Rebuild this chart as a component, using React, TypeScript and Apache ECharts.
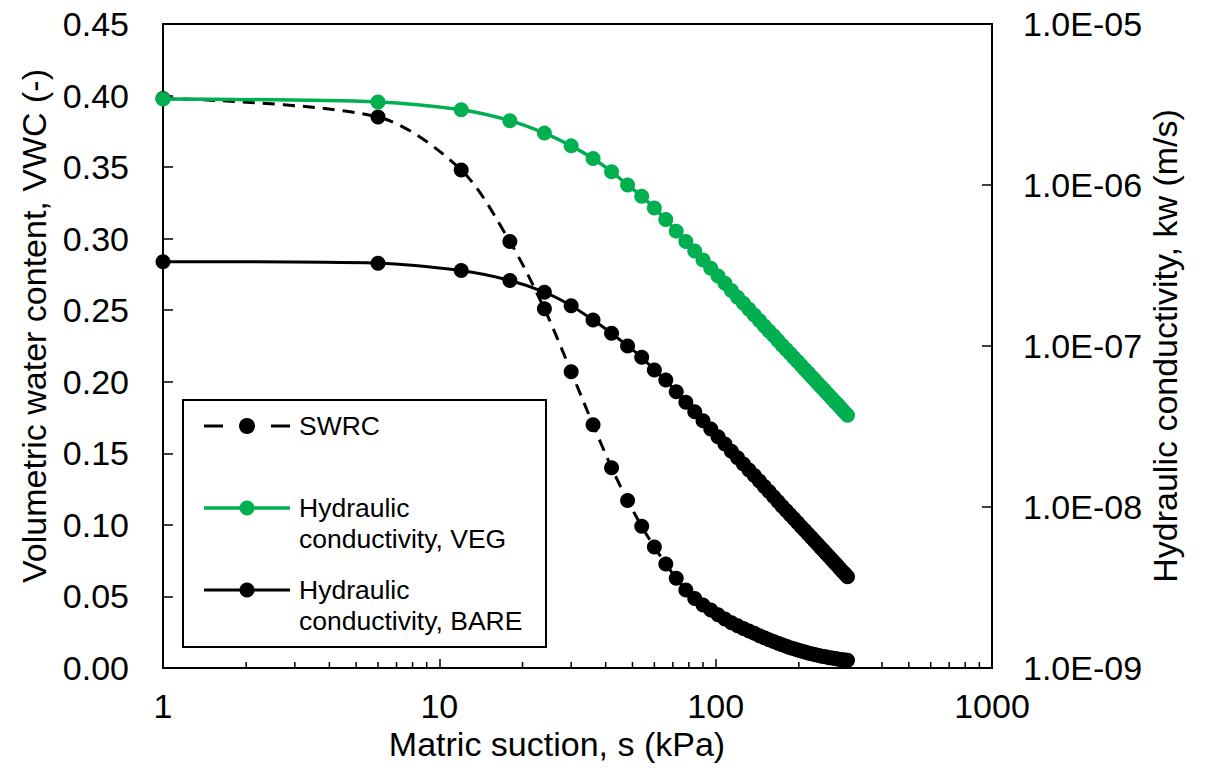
import React, { useEffect, useRef } from "react";
import * as echarts from "echarts";

// Matric suction (kPa)
const suction = [
  1, 6, 12, 18, 24, 30, 36, 42, 48, 54, 60, 66, 72, 78, 84, 90, 96, 102, 108, 114, 120,
  126, 132, 138, 144, 150, 156, 162, 168, 174, 180, 186, 192, 198, 204, 210, 216, 222,
  228, 234, 240, 246, 252, 258, 264, 270, 276, 282, 288, 294, 300,
];

// Volumetric water content (-)
const swrc = [
  0.398, 0.385, 0.348, 0.298, 0.251, 0.207, 0.17, 0.14, 0.117, 0.099, 0.0845, 0.0727,
  0.0627, 0.0545, 0.0485, 0.044, 0.0405, 0.0372, 0.0343, 0.0317, 0.0295, 0.0276, 0.0258,
  0.0242, 0.0226, 0.0212, 0.0198, 0.0185, 0.0173, 0.0162, 0.0152, 0.0142, 0.0134, 0.0126,
  0.0118, 0.0111, 0.0105, 0.0099, 0.0094, 0.0089, 0.0084, 0.008, 0.0076, 0.0072, 0.0069,
  0.0066, 0.0063, 0.006, 0.0058, 0.0056, 0.0054,
];

// Hydraulic conductivity, VEG (m/s)
const kVeg = [
  3.42e-6, 3.28e-6, 2.93e-6, 2.51e-6, 2.1e-6, 1.75e-6, 1.46e-6, 1.21e-6, 1.0e-6, 8.5e-7,
  7.2e-7, 6.1e-7, 5.17e-7, 4.46e-7, 3.89e-7, 3.42e-7, 3.04e-7, 2.72e-7, 2.45e-7, 2.21e-7,
  2.01e-7, 1.84e-7, 1.69e-7, 1.56e-7, 1.44e-7, 1.33e-7, 1.24e-7, 1.16e-7, 1.08e-7, 1.01e-7,
  9.52e-8, 8.97e-8, 8.46e-8, 8.0e-8, 7.57e-8, 7.18e-8, 6.81e-8, 6.47e-8, 6.17e-8, 5.88e-8,
  5.61e-8, 5.36e-8, 5.12e-8, 4.91e-8, 4.7e-8, 4.51e-8, 4.34e-8, 4.16e-8, 4.0e-8, 3.85e-8,
  3.72e-8,
];

// Hydraulic conductivity, BARE (m/s)
const kBare = [
  3.34e-7, 3.27e-7, 2.94e-7, 2.55e-7, 2.16e-7, 1.78e-7, 1.45e-7, 1.2e-7, 1.0e-7, 8.51e-8,
  7.1e-8, 6.15e-8, 5.2e-8, 4.48e-8, 3.9e-8, 3.43e-8, 3.05e-8, 2.73e-8, 2.46e-8, 2.22e-8,
  2.02e-8, 1.85e-8, 1.7e-8, 1.57e-8, 1.45e-8, 1.34e-8, 1.25e-8, 1.16e-8, 1.08e-8, 1.01e-8,
  9.5e-9, 8.95e-9, 8.45e-9, 7.98e-9, 7.55e-9, 7.16e-9, 6.8e-9, 6.46e-9, 6.15e-9, 5.86e-9,
  5.59e-9, 5.34e-9, 5.1e-9, 4.89e-9, 4.68e-9, 4.49e-9, 4.32e-9, 4.14e-9, 3.98e-9, 3.83e-9,
  3.69e-9,
];

// Minor tick positions on the suction axis
const xMinorTicks = [
  2, 3, 4, 5, 6, 7, 8, 9, 20, 30, 40, 50, 60, 70, 80, 90, 200, 300, 400, 500, 600, 700, 800, 900,
];

const legendNames = ["SWRC", "Hydraulic\nconductivity, VEG", "Hydraulic\nconductivity, BARE"];
const xTitle = "Matric suction, s (kPa)";
const yLeftTitle = "Volumetric water content, VWC (-)";
const yRightTitle = "Hydraulic conductivity, kw (m/s)";

const FONT = '"Liberation Sans", Arial, Helvetica, sans-serif';
const GREEN = "#00B050";

function fmtExp(v: number): string {
  const e = Math.floor(Math.log10(v) + 1e-9);
  const m = v / Math.pow(10, e);
  const sign = e < 0 ? "-" : "+";
  return `${m.toFixed(1)}E${sign}${String(Math.abs(e)).padStart(2, "0")}`;
}

export default function App() {
  const ref = useRef<HTMLDivElement>(null);

  useEffect(() => {
    if (!ref.current) return;
    const chart = echarts.init(ref.current, null, { renderer: "svg" });

    const legendGraphic: any[] = [
      {
        type: "rect",
        shape: { x: 183, y: 400, width: 363, height: 247 },
        style: { fill: "#fff", stroke: "#000", lineWidth: 2 },
        z: 100,
      },
      // SWRC sample
      { type: "line", shape: { x1: 204, y1: 426, x2: 223, y2: 426 }, style: { stroke: "#000", lineWidth: 3 }, z: 101 },
      { type: "line", shape: { x1: 271, y1: 426, x2: 290, y2: 426 }, style: { stroke: "#000", lineWidth: 3 }, z: 101 },
      { type: "circle", shape: { cx: 247, cy: 426, r: 8 }, style: { fill: "#000" }, z: 101 },
      {
        type: "text", x: 299, y: 426, z: 101,
        style: { text: legendNames[0], fontSize: 26.5, fontFamily: FONT, fill: "#000", verticalAlign: "middle" },
      },
      // VEG sample
      { type: "line", shape: { x1: 204, y1: 508, x2: 290, y2: 508 }, style: { stroke: GREEN, lineWidth: 3.5 }, z: 101 },
      { type: "circle", shape: { cx: 247, cy: 508, r: 7.5 }, style: { fill: GREEN }, z: 101 },
      {
        type: "text", x: 299, y: 523, z: 101,
        style: { text: legendNames[1], fontSize: 26.5, lineHeight: 31, fontFamily: FONT, fill: "#000", verticalAlign: "middle" },
      },
      // BARE sample
      { type: "line", shape: { x1: 204, y1: 590, x2: 290, y2: 590 }, style: { stroke: "#000", lineWidth: 3 }, z: 101 },
      { type: "circle", shape: { cx: 247, cy: 590, r: 7.5 }, style: { fill: "#000" }, z: 101 },
      {
        type: "text", x: 299, y: 605, z: 101,
        style: { text: legendNames[2], fontSize: 26.5, lineHeight: 31, fontFamily: FONT, fill: "#000", verticalAlign: "middle" },
      },
      // axis titles
      {
        type: "text", x: 557, y: 744,
        style: { text: xTitle, fontSize: 34, fontFamily: FONT, fill: "#000", align: "center", verticalAlign: "middle" },
      },
      {
        type: "text", x: 34, y: 326, rotation: Math.PI / 2,
        style: { text: yLeftTitle, fontSize: 34, fontFamily: FONT, fill: "#000", align: "center", verticalAlign: "middle" },
      },
      {
        type: "text", x: 1165, y: 346, rotation: Math.PI / 2,
        style: { text: yRightTitle, fontSize: 34, fontFamily: FONT, fill: "#000", align: "center", verticalAlign: "middle" },
      },
    ];

    const option: any = {
      animation: false,
      backgroundColor: "#fff",
      textStyle: { fontFamily: FONT },
      grid: {
        left: 163, top: 24, right: 213, bottom: 107,
        show: true, borderColor: "#000", borderWidth: 2, backgroundColor: "transparent",
        containLabel: false, outerBoundsMode: "none",
      },
      xAxis: {
        type: "log", logBase: 10, min: 1, max: 1000,
        axisLine: { show: true, lineStyle: { color: "#000", width: 2 } },
        axisTick: { show: true, inside: true, length: 9, lineStyle: { color: "#000", width: 1.5 } },
        axisLabel: {
          color: "#000", fontSize: 34, fontFamily: FONT, margin: 21,
          formatter: (v: number) => String(Math.round(v)),
        },
        splitLine: { show: false },
        minorTick: { show: false },
      },
      yAxis: [
        {
          type: "value", min: 0, max: 0.45, interval: 0.05, position: "left",
          axisLine: { show: true, lineStyle: { color: "#000", width: 2 } },
          axisTick: { show: true, inside: true, length: 10, lineStyle: { color: "#000", width: 1.5 } },
          axisLabel: {
            color: "#000", fontSize: 34, fontFamily: FONT, margin: 34,
            formatter: (v: number) => v.toFixed(2),
          },
          splitLine: { show: false },
        },
        {
          type: "log", logBase: 10, min: 1e-9, max: 1e-5, position: "right",
          axisLine: { show: true, lineStyle: { color: "#000", width: 2 } },
          axisTick: { show: true, inside: true, length: 10, lineStyle: { color: "#000", width: 1.5 } },
          axisLabel: {
            color: "#000", fontSize: 34, fontFamily: FONT, margin: 31,
            formatter: (v: number) => fmtExp(v),
          },
          splitLine: { show: false },
        },
      ],
      series: [
        {
          type: "custom",
          name: "minor ticks",
          xAxisIndex: 0, yAxisIndex: 0,
          silent: true,
          clip: false,
          data: xMinorTicks.map((v) => [v, 0]),
          renderItem: (params: any, api: any) => {
            const p = api.coord([api.value(0), 0]);
            return {
              type: "line",
              shape: { x1: p[0], y1: p[1], x2: p[0], y2: p[1] - 6 },
              style: { stroke: "#000", lineWidth: 1.5 },
            };
          },
          z: 1,
        },
        {
          type: "line",
          name: "SWRC",
          yAxisIndex: 0,
          data: suction.map((x, i) => [x, swrc[i]]),
          smooth: 0.3,
          symbol: "circle",
          symbolSize: 15,
          lineStyle: { color: "#000", width: 3, type: [12, 8] },
          itemStyle: { color: "#000" },
          z: 2,
        },
        {
          type: "line",
          name: "Hydraulic conductivity, VEG",
          yAxisIndex: 1,
          data: suction.map((x, i) => [x, kVeg[i]]),
          smooth: 0.3,
          symbol: "circle",
          symbolSize: 15,
          lineStyle: { color: GREEN, width: 3.5 },
          itemStyle: { color: GREEN },
          z: 3,
        },
        {
          type: "line",
          name: "Hydraulic conductivity, BARE",
          yAxisIndex: 1,
          data: suction.map((x, i) => [x, kBare[i]]),
          smooth: 0.3,
          symbol: "circle",
          symbolSize: 15,
          lineStyle: { color: "#000", width: 3 },
          itemStyle: { color: "#000" },
          z: 3,
        },
      ],
      graphic: legendGraphic,
    };

    chart.setOption(option);
    return () => chart.dispose();
  }, []);

  return (
    <div
      ref={ref}
      style={{ position: "absolute", left: 0, top: 0, width: 1205, height: 775, background: "#fff" }}
    />
  );
}
